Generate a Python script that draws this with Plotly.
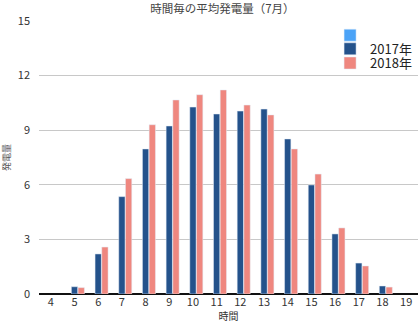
import plotly.graph_objects as go

hours = ["4", "5", "6", "7", "8", "9", "10", "11", "12", "13", "14", "15", "16", "17", "18", "19"]
blank_series = [None] * 16
y2017 = [None, 0.4, 2.2, 5.35, 7.97, 9.23, 10.27, 9.89, 10.05, 10.16, 8.52, 5.99, 3.3, 1.7, 0.44, None]
y2018 = [None, 0.35, 2.58, 6.34, 9.3, 10.66, 10.95, 11.21, 10.38, 9.84, 7.97, 6.59, 3.63, 1.54, 0.38, None]
y_ticks = [0, 3, 6, 9, 12, 15]

FONT = "Noto Sans CJK JP"

fig = go.Figure()
fig.add_trace(go.Bar(x=hours, y=blank_series, name="", marker_color="#4ba3f7", legend="legend"))
fig.add_trace(go.Bar(x=hours, y=y2017, name="2017年", marker_color="#24528b", legend="legend2"))
fig.add_trace(go.Bar(x=hours, y=y2018, name="2018年", marker_color="#ef877f", legend="legend3"))

leg_common = dict(xanchor="left", yanchor="middle", bgcolor="rgba(0,0,0,0)",
                  font=dict(family=FONT, size=13, color="#222222"), itemwidth=30)

fig.update_layout(
    width=418, height=323,
    margin=dict(l=39, r=0, t=21, b=29),
    paper_bgcolor="white", plot_bgcolor="white",
    barmode="group", bargap=0.15, bargroupgap=0.06,
    font=dict(family=FONT, size=11, color="#333333"),
    title=dict(text="時間毎の平均発電量（7月）", x=0.532, xanchor="center", y=0.972, yanchor="middle",
               font=dict(family=FONT, size=11.5, color="#444444")),
    legend=dict(x=0.768, y=0.948, **leg_common),
    legend2=dict(x=0.768, y=0.898, **leg_common),
    legend3=dict(x=0.768, y=0.846, **leg_common),
    showlegend=True,
)
fig.update_xaxes(type="category", title=dict(text="時間", font=dict(size=10, color="#333333"), standoff=3),
                 showgrid=False, showline=False, ticks="", tickfont=dict(size=11, color="#333333"))
fig.update_yaxes(range=[0, 15], tickvals=y_ticks, showgrid=True, gridcolor="#c8c8c8", gridwidth=1,
                 zeroline=True, zerolinecolor="#111111", zerolinewidth=1.5,
                 ticklabelstandoff=8, tickfont=dict(size=11, color="#333333"),
                 title=dict(text="発電量", font=dict(size=9, color="#555555"), standoff=12))

fig.write_html("out.html")
